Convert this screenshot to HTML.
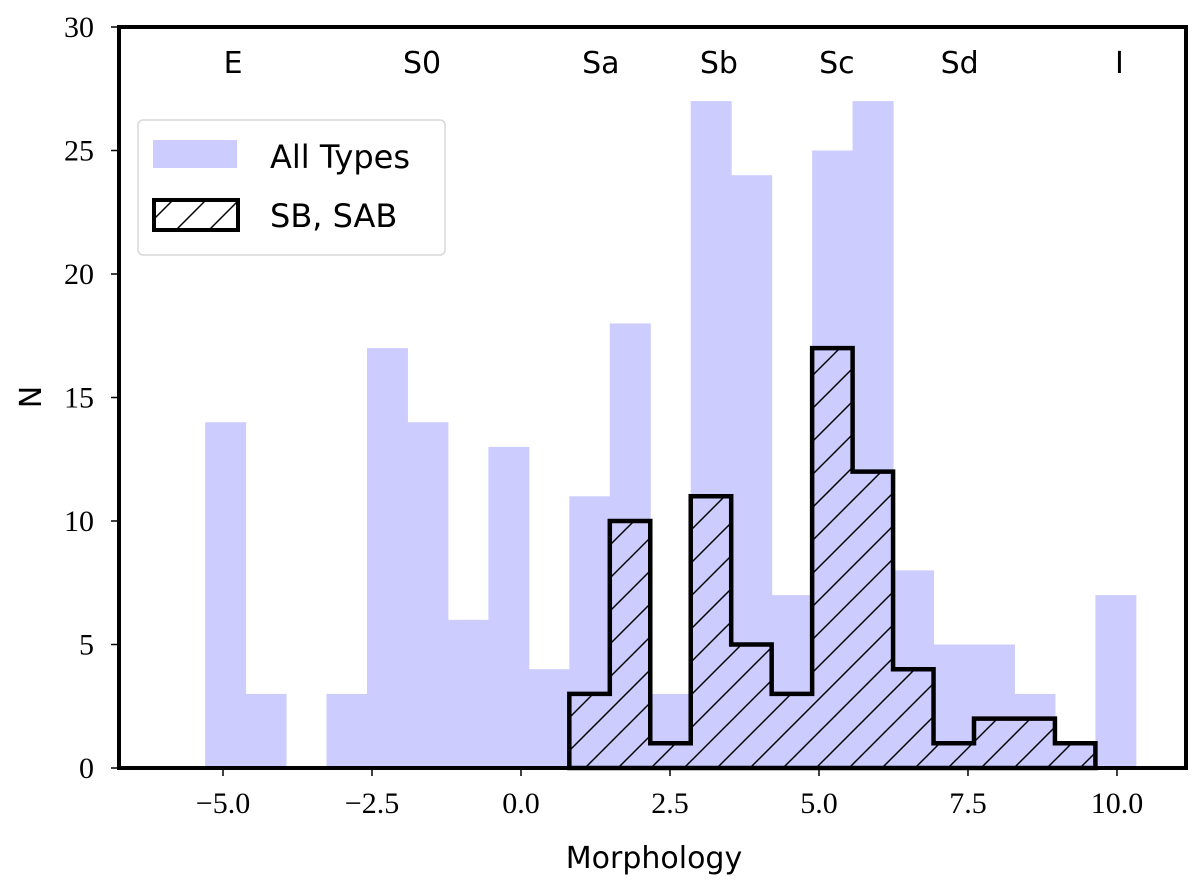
<!DOCTYPE html>
<html><head><meta charset="utf-8"><style>
body{margin:0;background:#fff;}
svg{display:block;}
.serif{font-family:"Liberation Serif",serif;}
.sans{font-family:"DejaVu Sans","Liberation Sans",sans-serif;}
</style></head><body>
<svg id="chart" width="1200" height="885">
<defs>
<pattern id="hatch" patternUnits="userSpaceOnUse" width="33" height="33">
<path d="M-5,5 L5,-5 M0,33 L33,0 M28,38 L38,28" stroke="#000" stroke-width="1.5"/>
</pattern>
<pattern id="hatch2" patternUnits="userSpaceOnUse" width="33" height="33" x="10" y="0">
<path d="M-5,5 L5,-5 M0,33 L33,0 M28,38 L38,28" stroke="#000" stroke-width="1.5"/>
</pattern>
</defs>
<g id="bars"></g>
<g id="axes"></g>
</svg>
<script>
const binStart = -5.30;
const binWidth = 0.679;
const allTypes = [14,3,0,3,17,14,6,13,4,11,18,3,27,24,7,25,27,8,5,5,3,1,7];
const barred = [0,0,0,0,0,0,0,0,0,3,10,1,11,5,3,17,12,4,1,2,2,1,0];
const xTicks = [-5.0,-2.5,0.0,2.5,5.0,7.5,10.0];
const xTickLabels = ["\u22125.0","\u22122.5","0.0","2.5","5.0","7.5","10.0"];
const yTicks = [0,5,10,15,20,25,30];
const typeLabels = ["E","S0","Sa","Sb","Sc","Sd","I"];
const typePositions = [-4.83,-1.66,1.34,3.32,5.3,7.36,10.04];

const L=119,R=1186,T=27,B=768;
const xMin=-6.745,xMax=11.158,yMin=0,yMax=30;
const X=v=>L+(v-xMin)/(xMax-xMin)*(R-L);
const Y=v=>B-(v-yMin)/(yMax-yMin)*(B-T);
const NS="http://www.w3.org/2000/svg";
function mk(tag,attrs,parent,text){const e=document.createElementNS(NS,tag);for(const k in attrs)e.setAttribute(k,attrs[k]);if(text!==undefined)e.textContent=text;parent.appendChild(e);return e;}
const bars=document.getElementById('bars'), axes=document.getElementById('axes');

allTypes.forEach((v,i)=>{
  if(v<=0)return;
  const x0=X(binStart+i*binWidth),x1=X(binStart+(i+1)*binWidth);
  const r=mk('rect',{x:x0,y:Y(v),width:x1-x0+0.5,height:Y(0)-Y(v),fill:'#ccccff'},bars);
  
  
});
let first=barred.findIndex(v=>v>0), last=barred.length-1; while(barred[last]===0)last--;
let d=`M${X(binStart+first*binWidth)},${Y(0)}`;
for(let i=first;i<=last;i++){
  const x0=X(binStart+i*binWidth),x1=X(binStart+(i+1)*binWidth);
  d+=` L${x0},${Y(barred[i])} L${x1},${Y(barred[i])}`;
}
d+=` L${X(binStart+(last+1)*binWidth)},${Y(0)} Z`;
const step=mk('path',{d:d,fill:'url(#hatch)',stroke:'#000','stroke-width':4.5,'stroke-linejoin':'miter'},bars);



const fr=mk('rect',{x:L,y:T,width:R-L,height:B-T,fill:'none',stroke:'#000','stroke-width':4},axes);



xTicks.forEach((v,i)=>{
  mk('line',{x1:X(v),x2:X(v),y1:B,y2:B+8,stroke:'#000','stroke-width':1.5},axes);
  const t=mk('text',{x:X(v),y:813,'text-anchor':'middle','font-size':30,class:'serif'},axes,xTickLabels[i]);
  
  
});
yTicks.forEach(v=>{
  mk('line',{x1:L-8,x2:L,y1:Y(v),y2:Y(v),stroke:'#000','stroke-width':1.5},axes);
  const t=mk('text',{x:L-25,y:Y(v)+10,'text-anchor':'end','font-size':30,class:'serif'},axes,String(v));
  
  
});
typeLabels.forEach((s,i)=>{
  const t=mk('text',{x:X(typePositions[i]),y:73,'text-anchor':'middle','font-size':30,class:'sans'},axes,s);
  
  
});
const xt=mk('text',{x:654,y:868,'text-anchor':'middle','font-size':30,class:'sans'},axes,'Morphology');


const yt=mk('text',{x:0,y:0,'text-anchor':'middle','font-size':30,class:'sans',transform:'translate(41,397) rotate(-90)'},axes,'N');



const lg=mk('g',{},axes);


mk('rect',{x:138,y:120,width:307,height:135,rx:5,fill:'#fff',stroke:'#d8d8d8','stroke-width':1.5},lg);
const p1=mk('rect',{x:153,y:140,width:84,height:28,fill:'#ccccff'},lg);


mk('text',{x:270,y:168,'font-size':32,class:'sans'},lg,'All Types');
const p2=mk('rect',{x:154,y:200,width:84,height:30,fill:'url(#hatch2)',stroke:'#000','stroke-width':4},lg);


mk('text',{x:270,y:227,'font-size':32,class:'sans'},lg,'SB, SAB');
</script>
</body></html>
